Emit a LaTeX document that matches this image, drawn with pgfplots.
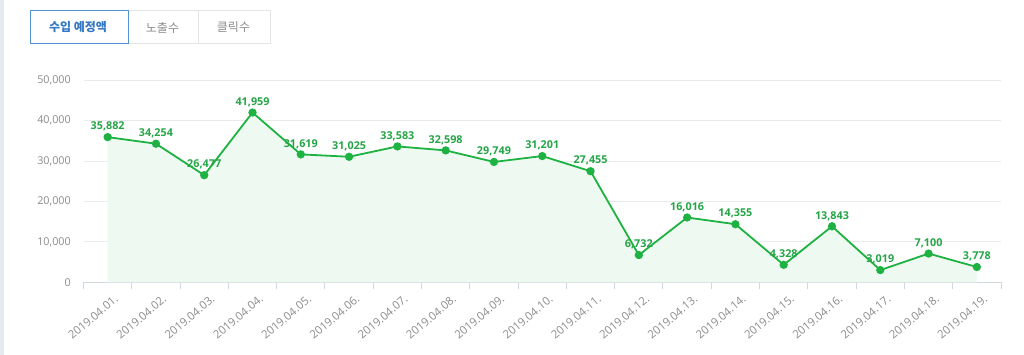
\documentclass[border=0pt]{standalone}
\usepackage{fontspec}
\setmainfont{Open Sans}
\newfontfamily\kr{Noto Sans CJK KR}
\usepackage{pgfplots}
\pgfplotsset{compat=1.18}
\definecolor{lgreen}{RGB}{30,178,66}
\definecolor{labgreen}{RGB}{38,165,72}
\definecolor{fillgreen}{RGB}{238,250,241}
\definecolor{gridgray}{RGB}{232,234,236}
\definecolor{axisgray}{RGB}{208,216,224}
\definecolor{txtgray}{RGB}{140,140,140}
\definecolor{stripgray}{RGB}{230,233,237}
\definecolor{tabblue}{RGB}{84,146,214}
\definecolor{tabtext}{RGB}{52,120,196}
\definecolor{tabgray}{RGB}{228,228,228}
\pgfplotstableread{
x y
0 35882
1 34254
2 26477
3 41959
4 31619
5 31025
6 33583
7 32598
8 29749
9 31201
10 27455
11 6732
12 16016
13 14355
14 4328
15 13843
16 3019
17 7100
18 3778
}\datatable
\begin{document}
\begin{tikzpicture}[x=1pt,y=1pt]
\fill[white] (0,0) rectangle (1024,355);
\path[use as bounding box] (0,0) rectangle (1024,355);
\fill[stripgray] (0,0) rectangle (4,355);
% tabs
\draw[tabgray, line width=1pt] (128,311) rectangle (198,344);
\draw[tabgray, line width=1pt] (198,311) rectangle (270,344);
\draw[tabblue, line width=1pt] (30,311) rectangle (128,344);
\node[font=\kr\fontsize{12}{14}\selectfont\bfseries, text=tabtext] at (78,327.5) {수입 예정액};
\node[font=\kr\fontsize{12}{14}\selectfont, text=txtgray] at (162.5,327.5) {노출수};
\node[font=\kr\fontsize{12}{14}\selectfont, text=txtgray] at (233.5,327.5) {클릭수};
\begin{axis}[
  at={(83.5pt,72.7pt)}, anchor=south west,
  scale only axis, width=917.5pt, height=202.3pt,
  xmin=-0.5, xmax=18.5, ymin=0, ymax=50000,
  axis x line*=bottom, axis y line*=left,
  axis line style={-},
  x axis line style={draw=axisgray, line width=1pt},
  y axis line style={draw=none},
  xtick={0,...,18},
  xticklabels={2019.04.01.,2019.04.02.,2019.04.03.,2019.04.04.,2019.04.05.,2019.04.06.,2019.04.07.,2019.04.08.,2019.04.09.,2019.04.10.,2019.04.11.,2019.04.12.,2019.04.13.,2019.04.14.,2019.04.15.,2019.04.16.,2019.04.17.,2019.04.18.,2019.04.19.},
  major tick length=0pt,
  minor xtick={-0.5,0.5,...,18.5},
  minor tick length=7pt,
  tick align=outside,
  minor x tick style={draw=axisgray, line width=1pt},
  major x tick style={draw=none},
  ytick={0,10000,20000,30000,40000,50000},
  ytick style={draw=none},
  ymajorgrids,
  major grid style={draw=gridgray, line width=0.8pt},
  scaled y ticks=false,
  /pgf/number format/.cd, 1000 sep={,}, fixed, precision=0, assume math mode=true,
  /pgfplots/.cd,
  xticklabel style={rotate=40, anchor=north east, inner sep=0pt, yshift=-13pt, xshift=-3pt, font=\fontsize{11.3}{12}\selectfont, text=txtgray},
  yticklabel style={anchor=east, inner sep=0pt, xshift=-12.5pt, font=\fontsize{10.8}{12}\selectfont, text=txtgray},
  clip=false,
]
\addplot[draw=none, fill=fillgreen] table[x=x,y=y] {\datatable} \closedcycle;
\addplot[lgreen, line width=1.8pt, mark=*, mark size=3.2pt,
  mark options={fill=lgreen, draw=lgreen},
  nodes near coords,
  every node near coord/.append style={anchor=center, yshift=10.5pt, inner sep=0pt, font=\fontsize{10.8}{12}\selectfont\bfseries, text=labgreen}]
  table[x=x,y=y] {\datatable};
\end{axis}
\end{tikzpicture}
\end{document}
